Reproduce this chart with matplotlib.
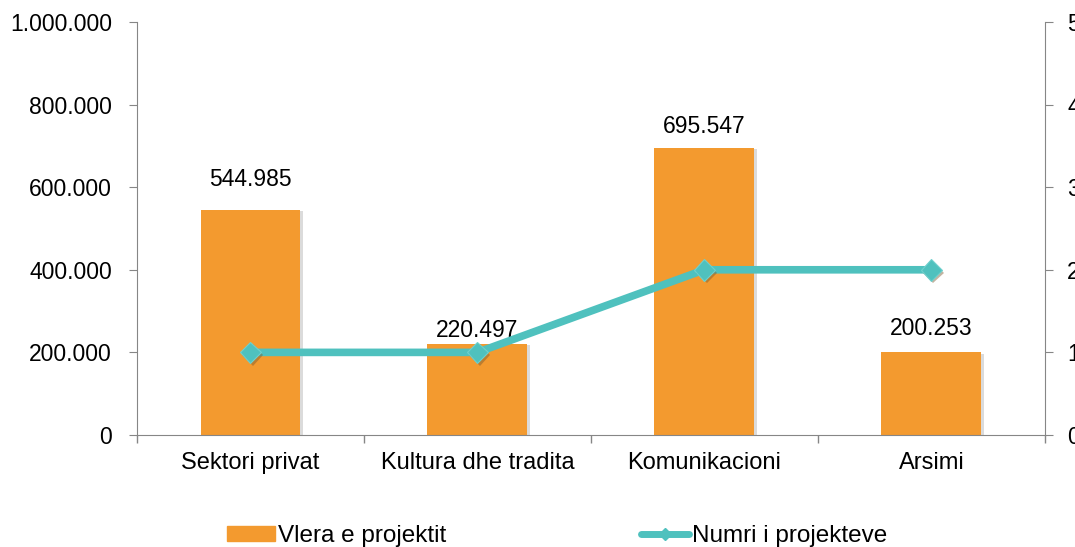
import matplotlib.pyplot as plt
import matplotlib.patheffects as pe
from matplotlib.ticker import FuncFormatter, FixedLocator
from matplotlib.lines import Line2D
from matplotlib.patches import Patch

plt.rcParams['font.family'] = ['Liberation Sans', 'DejaVu Sans']

categories = ['Sektori privat', 'Kultura dhe tradita', 'Komunikacioni', 'Arsimi']
vlera = [544985, 220497, 695547, 200253]
numri = [1, 1, 2, 2]
vlera_labels = ['544.985', '220.497', '695.547', '200.253']
label_offsets = [22, 10, 15, 17]

ORANGE = '#F39A2F'
TEAL = '#4FC1BE'
GREY = '#868686'


def dots(v, pos):
    return f'{int(v):,}'.replace(',', '.')


def main():
    fig = plt.figure(figsize=(10.75, 5.47), dpi=100)
    ax = fig.add_axes([0.1274, 0.2048, 0.8446, 0.755])
    x = range(len(categories))

    # bars with a soft shadow on the right
    ax.bar(x, vlera, width=0.44, color=ORANGE, zorder=2,
           path_effects=[pe.SimplePatchShadow(offset=(2, -1), shadow_rgbFace='#999999', alpha=0.35),
                         pe.Normal()])
    for i, (v, lab) in enumerate(zip(vlera, vlera_labels)):
        ax.annotate(lab, (i, v), xytext=(0, label_offsets[i]), textcoords='offset points',
                    ha='center', va='center', fontsize=16.5)

    ax.set_xlim(-0.5, len(categories) - 0.5)
    ax.set_ylim(0, 1000000)
    ax.yaxis.set_major_locator(FixedLocator([0, 200000, 400000, 600000, 800000, 1000000]))
    ax.yaxis.set_major_formatter(FuncFormatter(dots))
    ax.set_xticks(list(x))
    ax.set_xticklabels(categories)
    ax.xaxis.set_minor_locator(FixedLocator([-0.5, 0.5, 1.5, 2.5, 3.5]))
    ax.tick_params(axis='x', which='major', length=0, pad=12, labelsize=17)
    ax.tick_params(axis='x', which='minor', length=6, color=GREY, width=1)
    ax.tick_params(axis='y', length=6, color=GREY, labelsize=16.5, pad=12)
    for s in ['top', 'right']:
        ax.spines[s].set_visible(False)
    for s in ['left', 'bottom']:
        ax.spines[s].set_color(GREY)

    ax2 = ax.twinx()
    ax2.plot(list(x), numri, color=TEAL, linewidth=5.5, zorder=3, solid_capstyle='butt')
    ax2.plot(list(x), numri, linestyle='none', marker='D', markersize=11,
             markerfacecolor=TEAL, markeredgecolor='#6FD0CD', markeredgewidth=0.8, zorder=4,
             path_effects=[pe.SimplePatchShadow(offset=(1.5, -2), shadow_rgbFace='#7a5a30', alpha=0.45),
                           pe.Normal()])
    ax2.set_ylim(0, 5)
    ax2.set_yticks([0, 1, 2, 3, 4, 5])
    ax2.tick_params(axis='y', length=6, color=GREY, labelsize=16.5, pad=10)
    for s in ['top', 'left', 'bottom']:
        ax2.spines[s].set_visible(False)
    ax2.spines['right'].set_color(GREY)

    handles = [Patch(color=ORANGE, label='Vlera e projektit'),
               Line2D([], [], color=TEAL, linewidth=5, marker='D', markersize=6,
                      solid_capstyle='round', label='Numri i projekteve')]
    fig.legend(handles=handles, loc='center', bbox_to_anchor=(0.518, 0.020), ncol=2,
               frameon=False, fontsize=17.5, columnspacing=8.0, handlelength=2.0,
               handletextpad=0.1, handleheight=0.62, borderpad=0.2)

    fig.savefig('out.png', dpi=100)


if __name__ == '__main__':
    main()
